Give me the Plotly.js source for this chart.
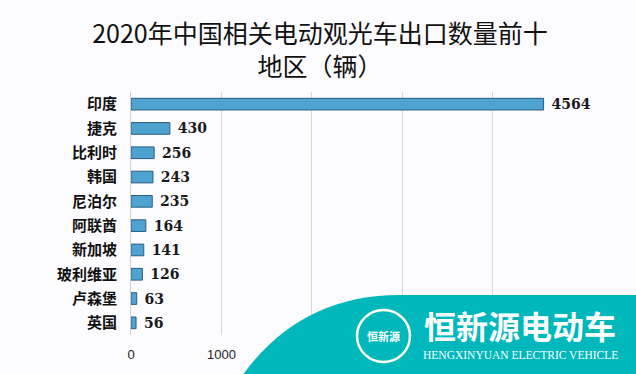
<!DOCTYPE html>
<html><head><meta charset="utf-8">
<script src="https://cdn.plot.ly/plotly-3.0.1.min.js"></script>
<style>html,body{margin:0;padding:0;background:#fcfbfe;}#chart{width:636px;height:374px;}</style>
</head><body><div id="chart"></div>
<script>
const categories = ["印度","捷克","比利时","韩国","尼泊尔","阿联酋","新加坡","玻利维亚","卢森堡","英国"];
const values = [4564, 430, 256, 243, 235, 164, 141, 126, 63, 56];
const xTicks = [0, 1000, 2000, 3000, 4000, 5000];
// labels at 2000 and above are hidden under the logo banner in the reference
const xTickLabels = ["0", "1000", "", "", "", ""];
const titleText = "2020年中国相关电动观光车出口数量前十<br>地区（辆）";
const brandName = "恒新源电动车";
const brandSub = "HENGXINYUAN ELECTRIC VEHICLE";
const brandLogo = "恒新源";

const trace = {
  type: 'bar', orientation: 'h',
  y: categories, x: values,
  width: 0.48,
  marker: {color: '#4fa3d0', line: {color: '#2a5d80', width: 1}},
  text: values.map(v => '\u00a0' + String(v)), textposition: 'outside',
  constraintext: 'none',
  cliponaxis: false,
  textfont: {family: 'DejaVu Serif', size: 14, color: '#1a1a1a', weight: 'bold'},
  hoverinfo: 'none'
};

const px = p => (p - 131) / 452;
const py = p => (335 - p) / 243;
const wavePath = `M ${px(242)} ${py(376)} Q ${px(300)} ${py(295)} ${px(400)} ${py(295)} L ${px(640)} ${py(295)} L ${px(640)} ${py(376)} Z`;

const layout = {
  width: 636, height: 374,
  paper_bgcolor: '#fcfbfe', plot_bgcolor: '#fcfbfe',
  margin: {l: 131, r: 53, t: 92, b: 39},
  title: {text: titleText, x: 0.503, xanchor: 'center', y: 0.885, yanchor: 'top',
          font: {family: 'Noto Sans CJK SC', size: 25, color: '#111'}},
  xaxis: {range: [0, 5000], tickvals: xTicks, ticktext: xTickLabels,
          showgrid: true, gridcolor: '#d8d8dc', gridwidth: 1, zeroline: false,
          showline: false, ticks: '', ticklabelstandoff: 10,
          tickfont: {family: 'Liberation Sans', size: 13, color: '#222'}},
  yaxis: {autorange: 'reversed', showgrid: false, zeroline: false,
          showline: true, linecolor: '#d0d0d4', linewidth: 1,
          ticks: '', ticklabelstandoff: 10,
          tickfont: {family: 'Noto Sans CJK SC', size: 15, color: '#111', weight: 'bold'}},
  showlegend: false,
  shapes: [
    {type: 'path', xref: 'paper', yref: 'paper', path: wavePath, fillcolor: '#00b8bb', line: {width: 0}, layer: 'above'},
    {type: 'circle', xref: 'paper', yref: 'paper', x0: px(357), x1: px(410), y0: py(362), y1: py(310),
     line: {color: '#ffffff', width: 2.5}, layer: 'above'}
  ],
  annotations: [
    {xref: 'paper', yref: 'paper', x: px(383), y: py(336), xanchor: 'center', yanchor: 'middle', text: brandLogo, showarrow: false,
     font: {family: 'Noto Sans CJK SC', size: 11, color: '#ffffff', weight: 'bold'}},
    {xref: 'paper', yref: 'paper', x: px(520), y: py(325), xanchor: 'center', yanchor: 'middle', text: brandName, showarrow: false,
     font: {family: 'Noto Sans CJK SC', size: 32, color: '#ffffff', weight: 'bold'}},
    {xref: 'paper', yref: 'paper', x: px(520), y: py(355), xanchor: 'center', yanchor: 'middle', text: brandSub, showarrow: false,
     font: {family: 'Liberation Serif', size: 11.5, color: '#ffffff'}}
  ]
};

Plotly.newPlot('chart', [trace], layout, {displayModeBar: false, staticPlot: true});
</script></body></html>
